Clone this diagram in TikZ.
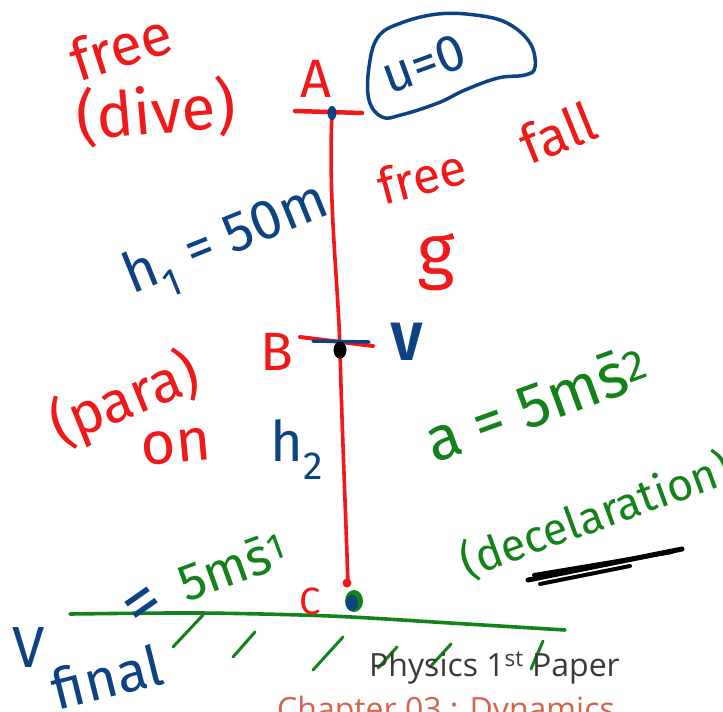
\documentclass[tikz,border=0pt]{standalone}
\usepackage{fontspec}
\setmainfont{Open Sans}
\newfontfamily\hand{Fira Sans}
\definecolor{hred}{HTML}{F01818}
\definecolor{hblue}{HTML}{0E4383}
\definecolor{hgreen}{HTML}{13821A}
\definecolor{ptext}{HTML}{3A3A3A}
\definecolor{ctext}{HTML}{D2654F}
\newcommand\fsz[1]{\fontsize{#1}{#1}\selectfont}
\tikzset{
  hw/.style={inner sep=0pt, font=\hand\fsz{#1}},
  hwb/.style={inner sep=0pt, font=\hand\fsz{#1}\bfseries},
  pen/.style={line width=#1, line cap=round, line join=round},
  hatch/.style={draw=hgreen, line width=3pt, line cap=round},
}
\begin{document}
\begin{tikzpicture}[x=1pt,y=-1pt]
\useasboundingbox (0,0) rectangle (723,712);
\clip (0,0) rectangle (723,712);
\fill[white] (0,0) rectangle (723,712);

% key points
\coordinate (A) at (332,113);
\coordinate (B) at (340,350);
\coordinate (C) at (348,585);

% rod A-B-C
\draw[hred, pen=3.6pt] (A) .. controls (328,200) and (338,280) .. (B) .. controls (342,430) and (346,520) .. (C);

% tick at A
\draw[hred, pen=4.5pt] (295,111) -- (362,113);
\fill[hblue] (A) ellipse (4.5 and 7);

% ticks at B
\draw[hred, pen=4pt] (300,337) -- (373,346);
\draw[hblue, pen=3.5pt] (313,341) -- (369,342);
\fill[black] (B) ellipse (6.5 and 8.5);

% point C
\fill[hred] (347,583) circle (4.5);
\fill[hgreen] (354,601) ellipse (9 and 11);
\fill[hblue] (352,603) ellipse (6 and 8);

% blob around u=0
\draw[hblue, pen=3.5pt] plot[smooth cycle, tension=0.65] coordinates {(382,117) (369,100) (369,67) (378,37) (401,23) (438,14) (475,15) (507,23) (530,43) (535,67) (525,75) (498,78) (465,90) (438,103) (401,115)};

% ground
\draw[hgreen, pen=3.6pt] plot[smooth, tension=0.5] coordinates {(70,614) (200,613) (330,616) (450,623) (565,630)};
\draw[hatch] (173,647) -- (203,615);
\draw[hatch] (233,657) -- (255,632);
\draw[hatch] (313,670) -- (343,637);
\draw[hatch] (378,668) -- (397,647);
\draw[hatch] (430,667) -- (451,644);
\draw[hatch] (531,669) -- (543,641);

% black scribble
\draw[black, pen=5pt] (528,580) -- (682,549);
\draw[black, pen=4pt] (534,575) -- (672,552);
\draw[black, pen=4pt] (540,584) -- (630,566);

% labels
\node[hw=58, text=hred, rotate=18] (free1) at (121,46) {free};
\node[hw=62, text=hred, rotate=5] (dive) at (156,112) {(dive)};
\node[hw=54, text=hred] (Alab) at (316,79) {A};
\node[hw=52, text=hblue, rotate=20] (u0) at (424,64) {u=0};
\node[hw=50, text=hred, rotate=15] (free2) at (422,176) {free};
\node[hw=54, text=hred, rotate=22] (fall) at (558,133) {fall};
\node[hw=56, text=hblue, rotate=22] (h1) at (228,243) {h\textsubscript{1} = 50m};
\node[hw=72, text=hred] (g) at (436,262) {g};
\node[hw=54, text=hred] (Blab) at (277,352) {B};
\node[hwb=54, text=hblue] (V) at (407,342) {V};
\node[hw=58, text=hred, rotate=22] (para) at (125,400) {(para)};
\node[hw=60, text=hred, rotate=5] (on) at (176,447) {on};
\node[hw=56, text=hblue] (h2) at (297,450) {h\textsubscript{2}};
\node[hw=62, text=hgreen, rotate=20] (acc) at (536,403) {a = 5m\={s}\textsuperscript{2}};
\node[hw=45, text=hgreen, rotate=20] (decel) at (596,515) {(decelaration)};
\node[hw=38, text=hred] (Clab) at (310,601) {C};
\node[hw=52, text=hgreen, rotate=20] (vC) at (232,566) {5m\={s}\textsuperscript{1}};
\node[hw=72, text=hblue, rotate=35] (eq) at (146,608) {=};
\node[hw=58, text=hblue] (Vf) at (29,648) {V};
\node[hw=56, text=hblue, rotate=14] (final) at (107,677) {final};

% footer
\node[inner sep=0pt, font=\fsz{32}, text=ptext, anchor=base west] (phys) at (369,676) {Physics 1\textsuperscript{st} Paper};
\node[inner sep=0pt, font=\fsz{32}, text=ctext, anchor=base west] (chap) at (277,720) {Chapter 03 : Dynamics};
\end{tikzpicture}
\end{document}
